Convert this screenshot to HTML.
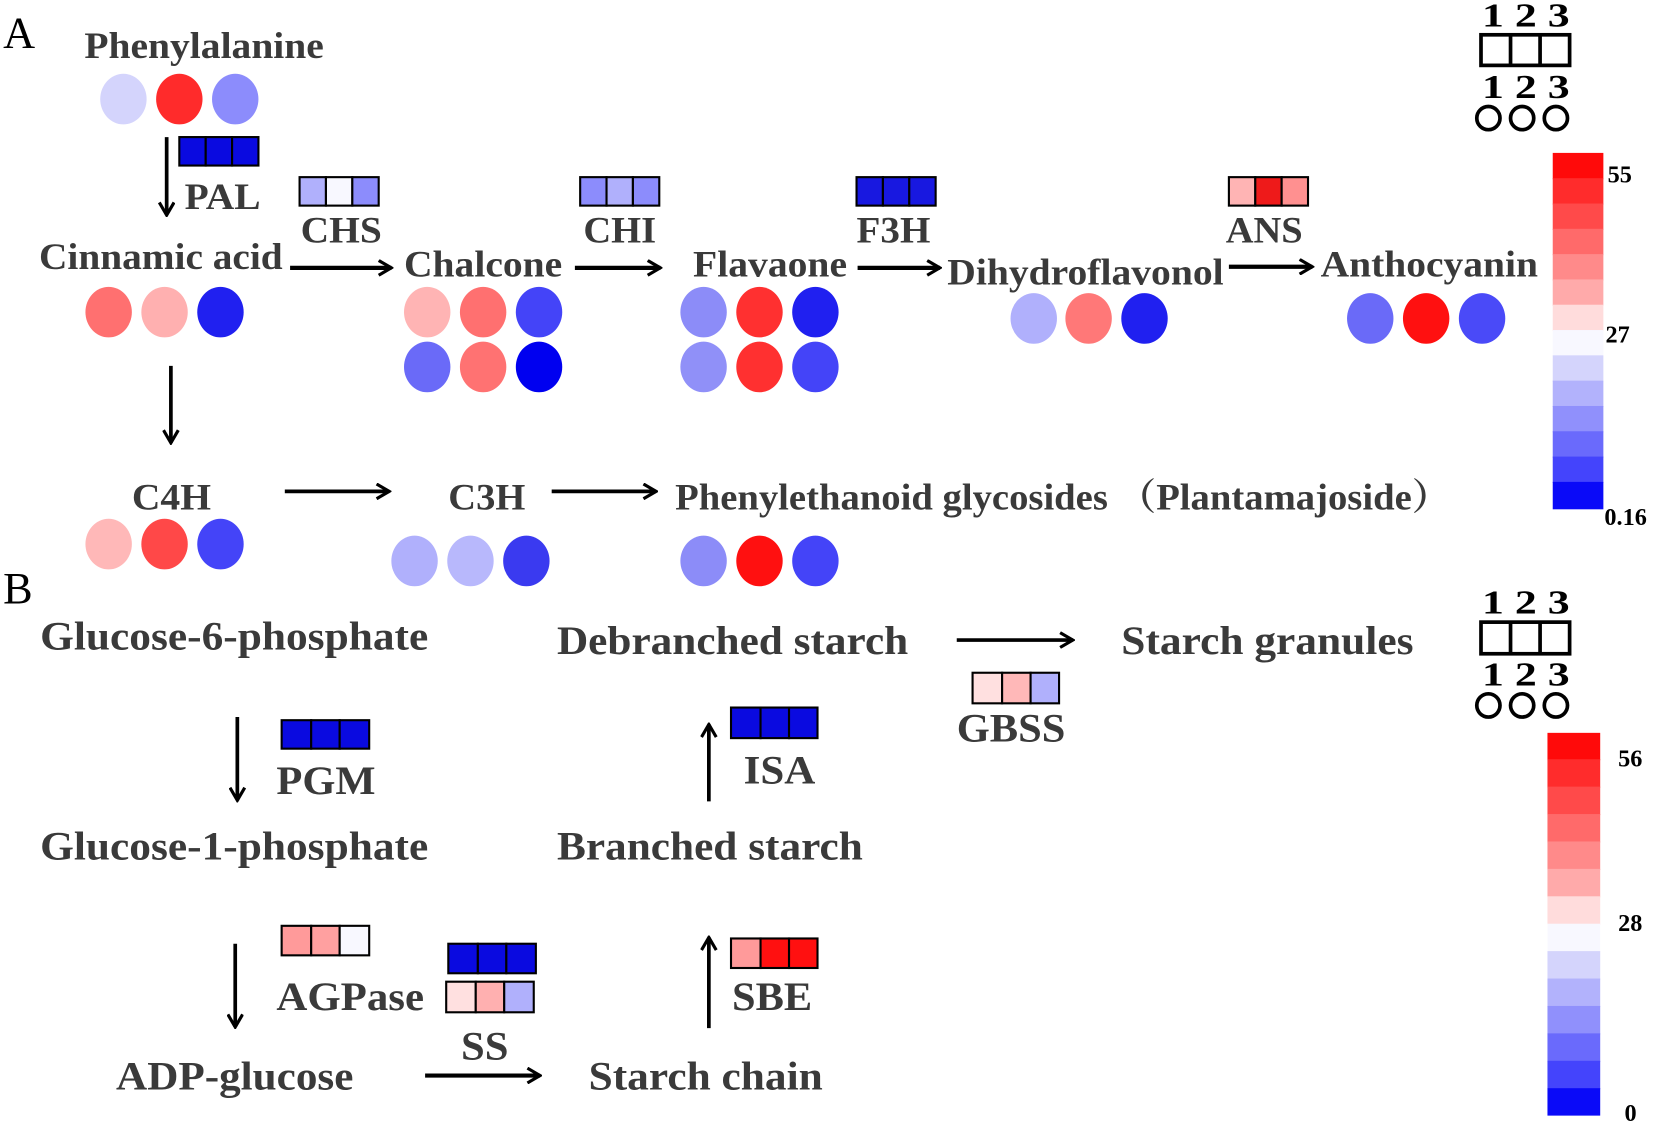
<!DOCTYPE html>
<html><head><meta charset="utf-8"><style>
html,body{margin:0;padding:0;background:#fff;}
svg{display:block;}
text{font-family:"Liberation Serif","Noto Serif CJK SC",serif;font-weight:bold;fill:#3a3a3a;}
.k{fill:#000;}
</style></head><body>
<svg width="1654" height="1123" viewBox="0 0 1568 1065" preserveAspectRatio="none" xmlns="http://www.w3.org/2000/svg">
<defs>
<marker id="ah2" markerWidth="16" markerHeight="16" refX="14" refY="8" orient="auto" markerUnits="userSpaceOnUse" viewBox="0 0 16 16">
<path d="M2,1 L14,8 L2,15" fill="none" stroke="#000" stroke-width="3"/>
</marker>
</defs>
<g font-size="35">
<text x="3" y="45" font-size="42" class="k" style="font-weight:normal">A</text>
<text x="80" y="55" textLength="227" lengthAdjust="spacingAndGlyphs">Phenylalanine</text>
<text x="175" y="198" textLength="72" lengthAdjust="spacingAndGlyphs">PAL</text>
<text x="285" y="230" textLength="77" lengthAdjust="spacingAndGlyphs">CHS</text>
<text x="37" y="255" textLength="231" lengthAdjust="spacingAndGlyphs">Cinnamic acid</text>
<text x="383" y="262" textLength="150" lengthAdjust="spacingAndGlyphs">Chalcone</text>
<text x="553" y="230" textLength="69" lengthAdjust="spacingAndGlyphs">CHI</text>
<text x="657" y="262" textLength="146" lengthAdjust="spacingAndGlyphs">Flavaone</text>
<text x="812" y="230" textLength="70" lengthAdjust="spacingAndGlyphs">F3H</text>
<text x="898" y="270" textLength="262" lengthAdjust="spacingAndGlyphs">Dihydroflavonol</text>
<text x="1162" y="230" textLength="73" lengthAdjust="spacingAndGlyphs">ANS</text>
<text x="1252" y="262" textLength="206" lengthAdjust="spacingAndGlyphs">Anthocyanin</text>
<text x="125" y="483" textLength="75" lengthAdjust="spacingAndGlyphs">C4H</text>
<text x="425" y="483" textLength="73" lengthAdjust="spacingAndGlyphs">C3H</text>
<text x="640" y="483" textLength="735" lengthAdjust="spacingAndGlyphs">Phenylethanoid glycosides （Plantamajoside）</text>
</g>
<g font-size="32" class="k">
<text x="1405" y="25" class="k" textLength="83" lengthAdjust="spacingAndGlyphs">1 2 3</text>
<text x="1405" y="93" class="k" textLength="83" lengthAdjust="spacingAndGlyphs">1 2 3</text>
<text x="1405" y="582" class="k" textLength="83" lengthAdjust="spacingAndGlyphs">1 2 3</text>
<text x="1405" y="650" class="k" textLength="83" lengthAdjust="spacingAndGlyphs">1 2 3</text>
</g>
<g fill="none" stroke="#000" stroke-width="3.5">
<rect x="1404" y="33" width="84" height="29"/><line x1="1432" y1="33" x2="1432" y2="62"/><line x1="1460" y1="33" x2="1460" y2="62"/>
<circle cx="1411" cy="112" r="11"/><circle cx="1443" cy="112" r="11"/><circle cx="1475" cy="112" r="11"/>
<rect x="1404" y="590" width="84" height="30"/><line x1="1432" y1="590" x2="1432" y2="620"/><line x1="1460" y1="590" x2="1460" y2="620"/>
<circle cx="1411" cy="669" r="11"/><circle cx="1443" cy="669" r="11"/><circle cx="1475" cy="669" r="11"/>
</g>
<g>
<rect x="1472" y="145" width="48" height="25" fill="#ff0a0a"/>
<rect x="1472" y="169" width="48" height="25" fill="#ff2c2c"/>
<rect x="1472" y="193" width="48" height="25" fill="#ff4a4a"/>
<rect x="1472" y="217" width="48" height="25" fill="#ff6a6a"/>
<rect x="1472" y="241" width="48" height="25" fill="#ff8a8a"/>
<rect x="1472" y="265" width="48" height="25" fill="#ffaaaa"/>
<rect x="1472" y="289" width="48" height="25" fill="#ffdcdc"/>
<rect x="1472" y="313" width="48" height="25" fill="#f8f8ff"/>
<rect x="1472" y="337" width="48" height="25" fill="#d4d4fc"/>
<rect x="1472" y="361" width="48" height="25" fill="#b2b2fc"/>
<rect x="1472" y="385" width="48" height="25" fill="#9090fc"/>
<rect x="1472" y="409" width="48" height="25" fill="#6a6afc"/>
<rect x="1472" y="433" width="48" height="25" fill="#4444fc"/>
<rect x="1472" y="457" width="48" height="26" fill="#0a0af8"/>
</g>
<g>
<rect x="1467" y="695" width="50" height="26" fill="#ff0a0a"/>
<rect x="1467" y="720" width="50" height="27" fill="#ff2c2c"/>
<rect x="1467" y="746" width="50" height="27" fill="#ff4a4a"/>
<rect x="1467" y="772" width="50" height="27" fill="#ff6a6a"/>
<rect x="1467" y="798" width="50" height="27" fill="#ff8a8a"/>
<rect x="1467" y="824" width="50" height="27" fill="#ffaaaa"/>
<rect x="1467" y="850" width="50" height="27" fill="#ffdcdc"/>
<rect x="1467" y="876" width="50" height="27" fill="#f8f8ff"/>
<rect x="1467" y="902" width="50" height="27" fill="#d4d4fc"/>
<rect x="1467" y="928" width="50" height="27" fill="#b2b2fc"/>
<rect x="1467" y="954" width="50" height="27" fill="#9090fc"/>
<rect x="1467" y="980" width="50" height="27" fill="#6a6afc"/>
<rect x="1467" y="1006" width="50" height="27" fill="#4444fc"/>
<rect x="1467" y="1032" width="50" height="26" fill="#0a0af8"/>
</g>
<g font-size="23" class="k">
<text x="1524" y="173" class="k">55</text>
<text x="1522" y="325" class="k">27</text>
<text x="1521" y="498" class="k">0.16</text>
<text x="1534" y="727" class="k">56</text>
<text x="1534" y="883" class="k">28</text>
<text x="1540" y="1063" class="k">0</text>
</g>
<g>
<ellipse cx="117" cy="94" rx="22" ry="24" fill="#d4d4fc"/>
<ellipse cx="170" cy="94" rx="22" ry="24" fill="#ff2b2b"/>
<ellipse cx="223" cy="94" rx="22" ry="24" fill="#8c8cfc"/>
<ellipse cx="103" cy="296" rx="22" ry="24" fill="#ff7070"/>
<ellipse cx="156" cy="296" rx="22" ry="24" fill="#ffb0b0"/>
<ellipse cx="209" cy="296" rx="22" ry="24" fill="#2020f0"/>
<ellipse cx="405" cy="296" rx="22" ry="24" fill="#ffb4b4"/>
<ellipse cx="458" cy="296" rx="22" ry="24" fill="#ff7070"/>
<ellipse cx="511" cy="296" rx="22" ry="24" fill="#4444f8"/>
<ellipse cx="405" cy="348" rx="22" ry="24" fill="#6a6af8"/>
<ellipse cx="458" cy="348" rx="22" ry="24" fill="#ff7272"/>
<ellipse cx="511" cy="348" rx="22" ry="24" fill="#0000f0"/>
<ellipse cx="667" cy="296" rx="22" ry="24" fill="#8c8cf8"/>
<ellipse cx="720" cy="296" rx="22" ry="24" fill="#ff3030"/>
<ellipse cx="773" cy="296" rx="22" ry="24" fill="#2020f0"/>
<ellipse cx="667" cy="348" rx="22" ry="24" fill="#9090f8"/>
<ellipse cx="720" cy="348" rx="22" ry="24" fill="#ff3030"/>
<ellipse cx="773" cy="348" rx="22" ry="24" fill="#4444f8"/>
<ellipse cx="980" cy="302" rx="22" ry="24" fill="#b0b0fc"/>
<ellipse cx="1032" cy="302" rx="22" ry="24" fill="#ff7878"/>
<ellipse cx="1085" cy="302" rx="22" ry="24" fill="#2020f0"/>
<ellipse cx="1299" cy="302" rx="22" ry="24" fill="#6a6af8"/>
<ellipse cx="1352" cy="302" rx="22" ry="24" fill="#ff1010"/>
<ellipse cx="1405" cy="302" rx="22" ry="24" fill="#4a4af8"/>
<ellipse cx="103" cy="516" rx="22" ry="24" fill="#ffb8b8"/>
<ellipse cx="156" cy="516" rx="22" ry="24" fill="#ff4848"/>
<ellipse cx="209" cy="516" rx="22" ry="24" fill="#4444f8"/>
<ellipse cx="393" cy="532" rx="22" ry="24" fill="#b0b0fc"/>
<ellipse cx="446" cy="532" rx="22" ry="24" fill="#b8b8fc"/>
<ellipse cx="499" cy="532" rx="22" ry="24" fill="#3a3af0"/>
<ellipse cx="667" cy="532" rx="22" ry="24" fill="#8c8cf8"/>
<ellipse cx="720" cy="532" rx="22" ry="24" fill="#ff1010"/>
<ellipse cx="773" cy="532" rx="22" ry="24" fill="#4444f8"/>
</g>
<g stroke="#000" stroke-width="2">
<rect x="170" y="130" width="25" height="27" fill="#0a0ae0"/><rect x="195" y="130" width="25" height="27" fill="#0a0ae0"/><rect x="220" y="130" width="25" height="27" fill="#0a0ae0"/>
<rect x="284" y="168" width="25" height="27" fill="#b0b0fc"/><rect x="309" y="168" width="25" height="27" fill="#f8f8ff"/><rect x="334" y="168" width="25" height="27" fill="#8c8cfc"/>
<rect x="550" y="168" width="25" height="27" fill="#8c8cfc"/><rect x="575" y="168" width="25" height="27" fill="#b0b0fc"/><rect x="600" y="168" width="25" height="27" fill="#8c8cfc"/>
<rect x="812" y="168" width="25" height="27" fill="#1818e0"/><rect x="837" y="168" width="25" height="27" fill="#1818e0"/><rect x="862" y="168" width="25" height="27" fill="#1818e0"/>
<rect x="1165" y="168" width="25" height="27" fill="#ffb4b4"/><rect x="1190" y="168" width="25" height="27" fill="#ee1a1a"/><rect x="1215" y="168" width="25" height="27" fill="#ff9090"/>
<rect x="267" y="683" width="28" height="27" fill="#0a0ae0"/><rect x="295" y="683" width="27" height="27" fill="#0a0ae0"/><rect x="322" y="683" width="28" height="27" fill="#0a0ae0"/>
<rect x="267" y="878" width="28" height="28" fill="#ff9a9a"/><rect x="295" y="878" width="27" height="28" fill="#ffa0a0"/><rect x="322" y="878" width="28" height="28" fill="#f8f8ff"/>
<rect x="425" y="895" width="28" height="28" fill="#0a0ae0"/><rect x="453" y="895" width="27" height="28" fill="#0a0ae0"/><rect x="480" y="895" width="28" height="28" fill="#0a0ae0"/>
<rect x="423" y="931" width="28" height="29" fill="#ffe0e0"/><rect x="451" y="931" width="27" height="29" fill="#ffb0b0"/><rect x="478" y="931" width="28" height="29" fill="#b0b0fc"/>
<rect x="693" y="890" width="28" height="28" fill="#ff9a9a"/><rect x="721" y="890" width="27" height="28" fill="#ff1010"/><rect x="748" y="890" width="27" height="28" fill="#ff1010"/>
<rect x="693" y="671" width="28" height="29" fill="#0a0ae0"/><rect x="721" y="671" width="27" height="29" fill="#0a0ae0"/><rect x="748" y="671" width="27" height="29" fill="#0a0ae0"/>
<rect x="922" y="638" width="28" height="29" fill="#ffe0e0"/><rect x="950" y="638" width="27" height="29" fill="#ffb8b8"/><rect x="977" y="638" width="27" height="29" fill="#b0b0fc"/>
</g>
<g stroke="#000" stroke-width="3.5" fill="none">
<line x1="158" y1="130" x2="158" y2="204" marker-end="url(#ah2)"/>
<line x1="275" y1="254" x2="371" y2="254" marker-end="url(#ah2)" stroke-width="4"/>
<line x1="545" y1="254" x2="626" y2="254" marker-end="url(#ah2)" stroke-width="4"/>
<line x1="813" y1="254" x2="891" y2="254" marker-end="url(#ah2)" stroke-width="4"/>
<line x1="1165" y1="253" x2="1244" y2="253" marker-end="url(#ah2)" stroke-width="4"/>
<line x1="162" y1="347" x2="162" y2="420" marker-end="url(#ah2)"/>
<line x1="270" y1="466" x2="369" y2="466" marker-end="url(#ah2)"/>
<line x1="523" y1="466" x2="622" y2="466" marker-end="url(#ah2)"/>
<line x1="225" y1="680" x2="225" y2="759" marker-end="url(#ah2)"/>
<line x1="223" y1="895" x2="223" y2="974" marker-end="url(#ah2)"/>
<line x1="403" y1="1020" x2="512" y2="1020" marker-end="url(#ah2)" stroke-width="4"/>
<line x1="672" y1="975" x2="672" y2="889" marker-end="url(#ah2)"/>
<line x1="672" y1="760" x2="672" y2="687" marker-end="url(#ah2)"/>
<line x1="907" y1="607" x2="1017" y2="607" marker-end="url(#ah2)"/>
</g>
<g font-size="38">
<text x="3" y="572" font-size="42" class="k" style="font-weight:normal">B</text>
<text x="38" y="616" textLength="368" lengthAdjust="spacingAndGlyphs">Glucose-6-phosphate</text>
<text x="262" y="753" textLength="94" lengthAdjust="spacingAndGlyphs">PGM</text>
<text x="38" y="815" textLength="368" lengthAdjust="spacingAndGlyphs">Glucose-1-phosphate</text>
<text x="262" y="958" textLength="140" lengthAdjust="spacingAndGlyphs">AGPase</text>
<text x="110" y="1033" textLength="225" lengthAdjust="spacingAndGlyphs">ADP-glucose</text>
<text x="437" y="1005" textLength="45" lengthAdjust="spacingAndGlyphs">SS</text>
<text x="558" y="1033" textLength="222" lengthAdjust="spacingAndGlyphs">Starch chain</text>
<text x="694" y="958" textLength="76" lengthAdjust="spacingAndGlyphs">SBE</text>
<text x="528" y="815" textLength="290" lengthAdjust="spacingAndGlyphs">Branched starch</text>
<text x="705" y="743" textLength="68" lengthAdjust="spacingAndGlyphs">ISA</text>
<text x="528" y="620" textLength="333" lengthAdjust="spacingAndGlyphs">Debranched starch</text>
<text x="907" y="703" textLength="103" lengthAdjust="spacingAndGlyphs">GBSS</text>
<text x="1063" y="620" textLength="277" lengthAdjust="spacingAndGlyphs">Starch granules</text>
</g>
</svg>
</body></html>
